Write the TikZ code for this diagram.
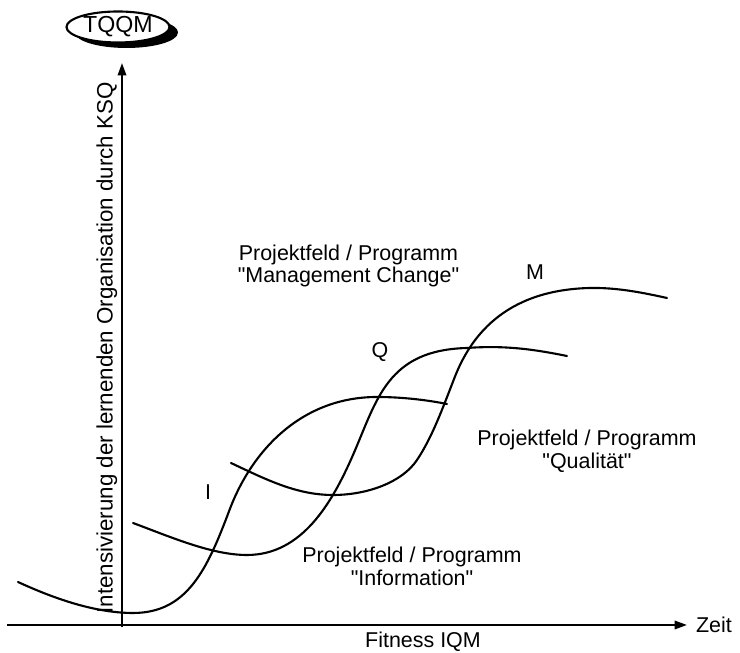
\documentclass[tikz,border=0pt]{standalone}
\usepackage{fontspec}
\setmainfont{Liberation Sans}
\usepackage{tikz}
\usetikzlibrary{arrows.meta,positioning,calc,shapes.geometric,shadows}

\newcommand{\qtd}[1]{\textquotedbl#1\textquotedbl}

\tikzset{
  curve/.style={line width=1.2pt,line cap=round},
  axis/.style={line width=1.2pt,-{Triangle[length=0.25cm,width=0.17cm]}},
  lbl/.style={font=\fontsize{12.2pt}{13pt}\selectfont,align=center,inner sep=0pt},
  tqqmbox/.style={ellipse,draw,line width=1.2pt,fill=white,inner sep=0pt,
    minimum width=2.06cm,minimum height=0.62cm,
    general shadow={fill=black,shadow xshift=0.17cm,shadow yshift=-0.11cm}}
}

\begin{document}
\begin{tikzpicture}
\useasboundingbox (-2.44,-0.56) rectangle (12.36,12.5);
% axes
\coordinate (xstart) at (-2.3,0);
\coordinate (xend) at (11.3,0);
\coordinate (ystart) at (0,-0.04);
\coordinate (yend) at (0,11.24);
\draw[axis] (xstart) -- (xend) node[lbl,right=0.16cm] (zeit) {Zeit};
\draw[axis] (ystart) -- (yend);
\node[tqqmbox,font=\fontsize{13.2pt}{14pt}\selectfont] (tqqm) at (-0.08,11.96) {TQQM};
\node[lbl,rotate=90,anchor=south,font=\fontsize{12.7pt}{13pt}\selectfont] (ylab) at (-0.09,5.54) {Intensivierung der lernenden Organisation durch KSQ};
\node[lbl] (fitness) at (6.02,-0.34) {Fitness IQM};
% curve I
\draw[curve] (-2.08,0.86) .. controls (-1.3,0.5) and (-0.5,0.24) .. (0.22,0.24)
  .. controls (1.3,0.24) and (1.7,1.1) .. (2.15,2.3)
  .. controls (2.6,3.5) and (3.6,4.56) .. (5.1,4.56)
  .. controls (5.6,4.56) and (6.1,4.5) .. (6.5,4.42);
% curve Q
\draw[curve] (0.22,2.04) .. controls (1.0,1.75) and (1.8,1.4) .. (2.5,1.4)
  .. controls (3.6,1.4) and (4.2,2.44) .. (4.62,3.4)
  .. controls (5.1,4.5) and (5.3,5.5) .. (6.9,5.54)
  .. controls (7.7,5.6) and (8.3,5.5) .. (8.9,5.38);
% curve M
\draw[curve] (2.18,3.24) .. controls (2.9,2.9) and (3.5,2.6) .. (4.22,2.6)
  .. controls (4.9,2.6) and (5.6,2.85) .. (5.9,3.3)
  .. controls (6.2,3.75) and (6.4,4.3) .. (6.66,4.97)
  .. controls (6.95,5.7) and (7.6,6.7) .. (9.36,6.74)
  .. controls (9.9,6.75) and (10.4,6.65) .. (10.9,6.54);
\node[lbl] (li) at (1.72,2.66) {I};
\node[lbl] (lq) at (5.16,5.46) {Q};
\node[lbl] (lm) at (8.26,7.06) {M};
\node[lbl] (pinfo) at (5.8,1.18) {Projektfeld / Programm\\\qtd{Information}};
\node[lbl] (pqual) at (9.3,3.48) {Projektfeld / Programm\\\qtd{Qualität}};
\node[lbl] (pman) at (4.53,7.18) {Projektfeld / Programm\\\qtd{Management Change}};
\end{tikzpicture}
\end{document}
